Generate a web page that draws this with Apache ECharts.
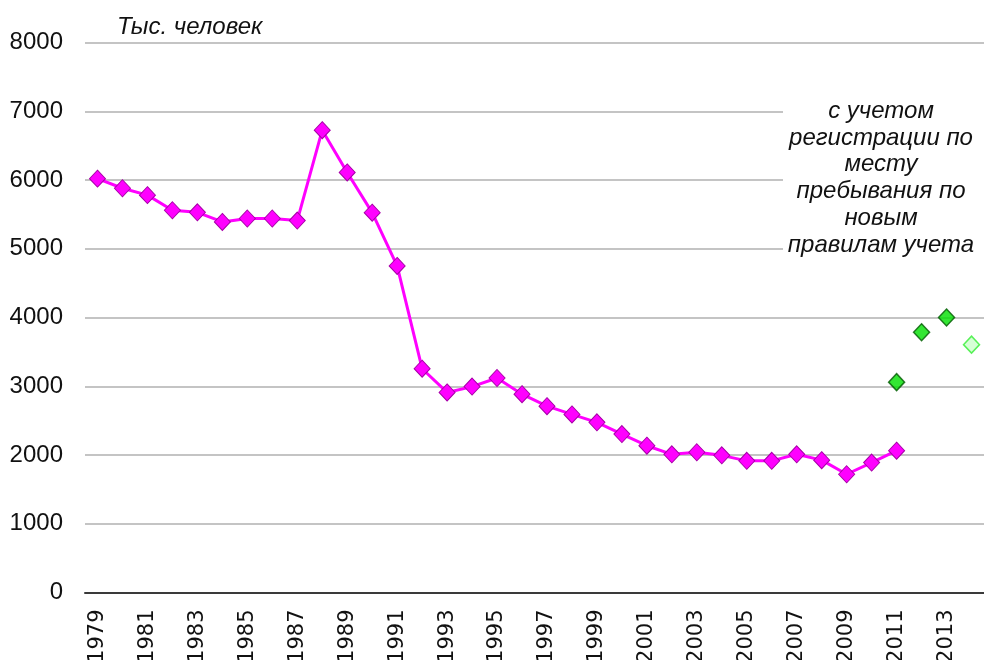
<!DOCTYPE html>
<html>
<head>
<meta charset="utf-8">
<script src="https://cdn.jsdelivr.net/npm/echarts@6/dist/echarts.min.js"></script>
<style>
  html, body { margin: 0; padding: 0; background: #fff; }
  #chart { width: 984px; height: 660px; }
</style>
</head>
<body>
<div id="chart"></div>
<script>
// годы 1979-2014
const years = [];
for (let y = 1979; y <= 2014; y++) years.push(String(y));

// численность, тыс. человек (старые правила учета), 1979-2011
const mainValues = [
  6020, 5880, 5780, 5560, 5530, 5390, 5440, 5440, 5410, 6725,
  6110, 5525, 4750, 3255, 2910, 2995, 3120, 2885, 2710, 2590,
  2475, 2305, 2135, 2010, 2040, 1995, 1915, 1915, 2010, 1925,
  1720, 1890, 2063
];

// с учетом регистрации по месту пребывания
const newRuleYears = ['2011', '2012', '2013'];
const newRuleValues = [3060, 3785, 4000];
const estimateYears = ['2014'];
const estimateValues = [3605];

const yTicks = { min: 0, max: 8000, step: 1000 };

const chart = echarts.init(document.getElementById('chart'));

const option = {
  animation: false,
  grid: { left: 85, right: 0, top: 42.5, bottom: 67.5, outerBoundsMode: 'none' },
  xAxis: {
    type: 'category',
    data: years,
    boundaryGap: true,
    axisLine: { show: true, lineStyle: { color: '#3a3a3a', width: 2 } },
    axisTick: { show: false },
    axisLabel: {
      interval: 1,
      rotate: 90,
      margin: 17,
      fontSize: 21,
      fontFamily: 'DejaVu Sans',
      color: '#111'
    }
  },
  yAxis: {
    type: 'value',
    min: yTicks.min,
    max: yTicks.max,
    interval: yTicks.step,
    axisLine: { show: false },
    axisTick: { show: false },
    axisLabel: {
      margin: 22,
      fontSize: 24,
      fontFamily: 'Liberation Sans',
      color: '#111',
      formatter: v => String(v)
    },
    splitLine: { lineStyle: { color: '#c4c4c4', width: 2 } }
  },
  series: [
    {
      name: 'main',
      type: 'line',
      data: mainValues,
      symbol: 'diamond',
      symbolSize: [16, 17],
      showAllSymbol: true,
      lineStyle: { color: '#ff00ff', width: 3 },
      itemStyle: { color: '#ff00ff', borderColor: '#a800a8', borderWidth: 1 },
      z: 3
    },
    {
      name: 'newRules',
      type: 'scatter',
      data: newRuleYears.map((y, i) => [y, newRuleValues[i]]),
      symbol: 'diamond',
      symbolSize: [16, 17],
      itemStyle: { color: '#00e000', borderColor: '#005a00', borderWidth: 1.5 },
      z: 4
    },
    {
      name: 'estimate',
      type: 'scatter',
      data: estimateYears.map((y, i) => [y, estimateValues[i]]),
      symbol: 'diamond',
      symbolSize: [16, 17],
      itemStyle: { color: '#ccffcc', borderColor: '#33ee33', borderWidth: 1.5 },
      z: 4
    }
  ],
  graphic: [
    {
      type: 'text',
      left: 117,
      top: 15,
      style: {
        text: 'Тыс. человек',
        font: 'italic 24px "Liberation Sans"',
        fill: '#111'
      }
    },
    {
      type: 'rect',
      shape: { x: 783, y: 96, width: 201, height: 166 },
      style: { fill: '#fff' },
      z: 10
    },
    {
      type: 'text',
      x: 881,
      y: 98,
      z: 11,
      style: {
        text: 'с учетом\nрегистрации по\nместу\nпребывания по\nновым\nправилам учета',
        font: 'italic 24px "Liberation Sans"',
        fill: '#111',
        align: 'center',
        lineHeight: 26.7
      }
    }
  ]
};

chart.setOption(option);
</script>
</body>
</html>
